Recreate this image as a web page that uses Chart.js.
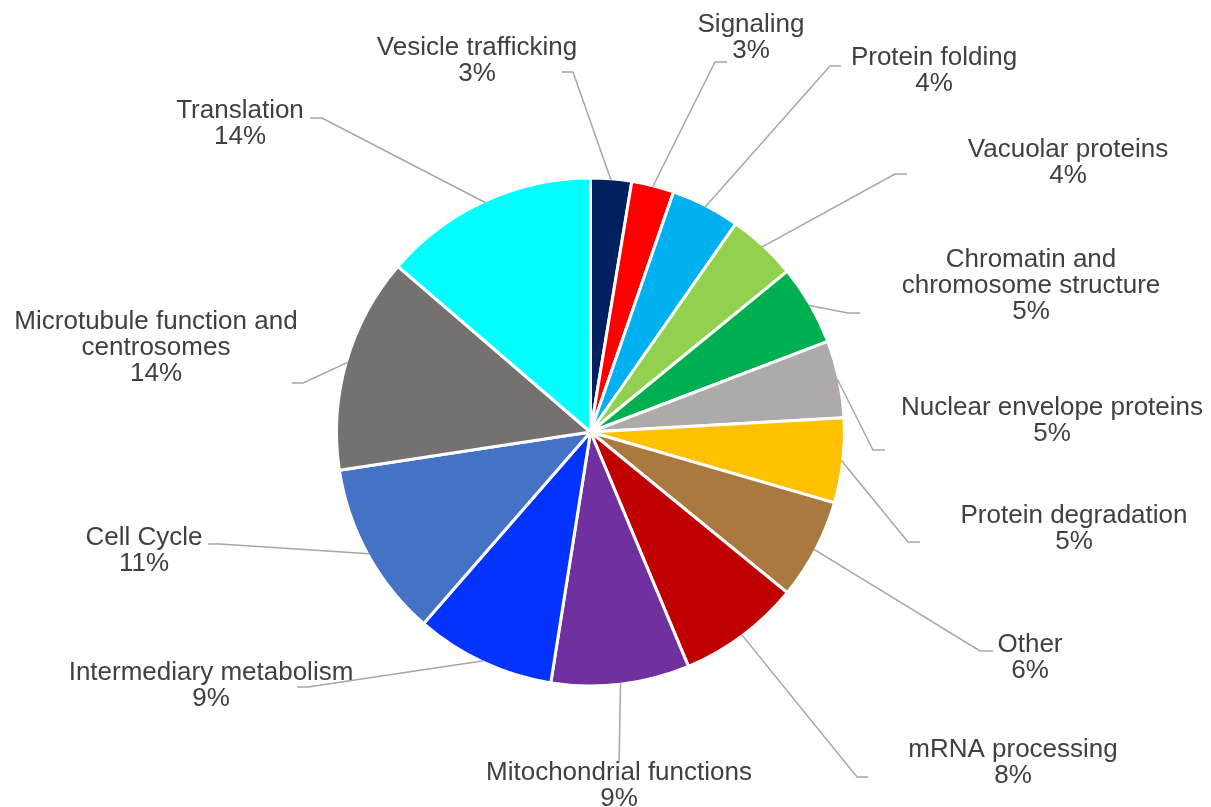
<!DOCTYPE html>
<html>
<head>
<meta charset="utf-8">
<title>Functional categories</title>
<script src="https://cdn.jsdelivr.net/npm/chart.js@4.4.1/dist/chart.umd.min.js"></script>
<style>
  html, body { margin: 0; padding: 0; background: #fff; }
  #wrap { width: 1211px; height: 807px; }
</style>
</head>
<body>
<div id="wrap"><canvas id="categoryPie" width="1211" height="807"></canvas></div>
<script>
// categories, clockwise from 12 o'clock
var categories = [
    ['Vesicle trafficking'],
    ['Signaling'],
    ['Protein folding'],
    ['Vacuolar proteins'],
    ['Chromatin and', 'chromosome structure'],
    ['Nuclear envelope proteins'],
    ['Protein degradation'],
    ['Other'],
    ['mRNA processing'],
    ['Mitochondrial functions'],
    ['Intermediary metabolism'],
    ['Cell Cycle'],
    ['Microtubule function and', 'centrosomes'],
    ['Translation']
];

// share of genes in each category (%)
var shares = [2.6, 2.7, 4.4, 4.4, 5.1, 4.9, 5.4, 6.4, 7.8, 8.8, 8.9, 11.2, 13.7, 13.7];

var sliceColors = [
    '#002060', '#FF0000', '#00B0F0', '#92D050', '#00B050', '#AEAAAA', '#FFC000',
    '#A9793F', '#C00000', '#7030A0', '#0433FF', '#4472C4', '#767171', '#00FFFF'
];

// label placement: text centre x, first baseline y, elbow of the leader line, end of its short tail
var labelLayout = [
    { x: 477,  y: 55,  ex: 573, ey: 72,  tx: 562 },
    { x: 751,  y: 32,  ex: 715, ey: 62,  tx: 727 },
    { x: 934,  y: 65,  ex: 830, ey: 66,  tx: 841 },
    { x: 1068, y: 157, ex: 895, ey: 174, tx: 907 },
    { x: 1031, y: 267, ex: 848, ey: 313, tx: 860 },
    { x: 1052, y: 415, ex: 873, ey: 450, tx: 885 },
    { x: 1074, y: 523, ex: 908, ey: 542, tx: 920 },
    { x: 1030, y: 652, ex: 980, ey: 651, tx: 993 },
    { x: 1013, y: 757, ex: 857, ey: 777, tx: 868 },
    { x: 619,  y: 780, ex: 619, ey: 763, tx: 619 },
    { x: 211,  y: 680, ex: 308, ey: 687, tx: 297 },
    { x: 144,  y: 545, ex: 220, ey: 544, tx: 208 },
    { x: 156,  y: 329, ex: 303, ey: 383, tx: 292 },
    { x: 240,  y: 118, ex: 322, ey: 118, tx: 310 }
];

// draws the category name + percent next to each slice with a grey leader line
var leaderLabels = {
    id: 'leaderLabels',
    afterDatasetsDraw: function (chart) {
        var ctx = chart.ctx;
        var arcs = chart.getDatasetMeta(0).data;
        var total = shares.reduce(function (a, b) { return a + b; }, 0);
        ctx.save();
        arcs.forEach(function (arc, i) {
            var p = arc.getProps(['x', 'y', 'startAngle', 'endAngle', 'outerRadius'], true);
            var mid = (p.startAngle + p.endAngle) / 2;
            var r = p.outerRadius - 1.5;
            var ax = p.x + Math.cos(mid) * r;
            var ay = p.y + Math.sin(mid) * r;
            var lay = labelLayout[i];

            ctx.strokeStyle = '#A6A6A6';
            ctx.lineWidth = 1.5;
            ctx.beginPath();
            ctx.moveTo(ax, ay);
            ctx.lineTo(lay.ex, lay.ey);
            ctx.lineTo(lay.tx, lay.ey);
            ctx.stroke();

            var lines = categories[i].concat([Math.round(shares[i] / total * 100) + '%']);
            ctx.fillStyle = '#404040';
            ctx.font = '26px "Liberation Sans", Arial, sans-serif';
            ctx.textAlign = 'center';
            ctx.textBaseline = 'alphabetic';
            lines.forEach(function (t, k) {
                ctx.fillText(t, lay.x, lay.y + k * 26);
            });
        });
        ctx.restore();
    }
};

var ctx = document.getElementById('categoryPie');
var myPieChart = new Chart(ctx, {
    type: 'pie',
    data: {
        labels: categories.map(function (c) { return c.join(' '); }),
        datasets: [{
            data: shares,
            backgroundColor: sliceColors,
            borderColor: '#FFFFFF',
            borderWidth: 3
        }]
    },
    options: {
        responsive: false,
        animation: false,
        events: [],
        radius: 254,
        layout: {
            padding: { left: 0, right: 30, top: 57, bottom: 0 }
        },
        plugins: {
            legend: { display: false },
            tooltip: { enabled: false }
        }
    },
    plugins: [leaderLabels]
});
</script>
</body>
</html>
